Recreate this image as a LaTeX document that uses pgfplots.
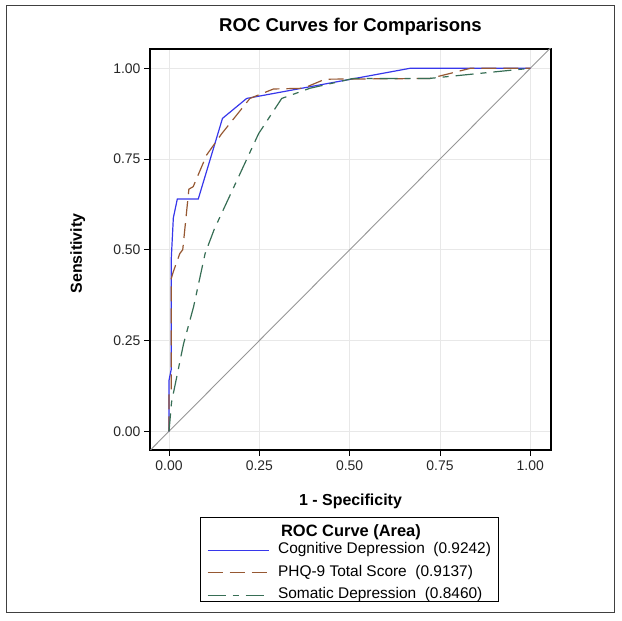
\documentclass[border=0pt]{standalone}
\usepackage{fontspec}
\setmainfont{Liberation Sans}
\usepackage{pgfplots}
\pgfplotsset{compat=1.18}
\definecolor{cogblue}{RGB}{55,55,235}
\definecolor{phqbrown}{RGB}{150,88,50}
\definecolor{somgreen}{RGB}{55,110,85}
\definecolor{diaggray}{RGB}{150,150,150}
\definecolor{gridgray}{RGB}{232,232,232}
\begin{document}
\begin{tikzpicture}[x=1bp,y=1bp]
\path[use as bounding box] (0,0) rectangle (621,621);
\draw[line width=1bp, black!75] (6.5,8) rectangle (614,615);
\begin{axis}[
  at={(150bp,171bp)}, anchor=south west,
  width=401bp, height=401bp, scale only axis,
  xmin=-0.0526, xmax=1.0573, ymin=-0.0515, ymax=1.0532,
  xtick={0,0.25,0.5,0.75,1}, ytick={0,0.25,0.5,0.75,1},
  xtick pos=bottom, ytick pos=left, tick align=outside,
  major tick length=6bp,
  every tick/.style={black, line width=0.9bp},
  axis line style={black, line width=1.1bp},
  grid=major, grid style={gridgray, line width=0.6bp},
  /pgf/number format/.cd, fixed, fixed zerofill, precision=2, assume math mode=true, /pgfplots/.cd,
  tick label style={font=\fontsize{14}{16}\selectfont, text=black!85},
  xticklabel style={yshift=-1bp},
  title={ROC Curves for Comparisons},
  title style={font=\bfseries\fontsize{18.6}{21}\selectfont, at={(axis description cs:0.5,1)}, anchor=base, yshift=12bp},
  xlabel={1 - Specificity},
  xlabel style={font=\bfseries\fontsize{16}{19}\selectfont, at={(axis description cs:0.5,0)}, anchor=base, yshift=-56bp},
  ylabel={Sensitivity},
  ylabel style={font=\bfseries\fontsize{16}{19}\selectfont, at={(axis description cs:-0.18,0.49)}, anchor=center},
  legend style={at={(axis description cs:0.1414,-0.2307)}, anchor=north west, draw=none, fill=none,
    inner sep=0pt, row sep=7.5bp, column sep=9bp,
    nodes={inner sep=0pt, text height=11bp, text depth=4bp},
    font=\fontsize{15.5}{18}\selectfont},
  legend cell align=left,
  legend image code/.code={\draw[#1] (0bp,0bp) -- (61bp,0bp);},
]
\addplot[diaggray, line width=0.9bp, forget plot] coordinates {(-0.06,-0.06) (1.06,1.06)};
\addplot[cogblue, line width=1.2bp] coordinates {
(0,0) (0,0.14) (0.006,0.17) (0.006,0.47) (0.012,0.588) (0.023,0.64) (0.081,0.64)
(0.148,0.862) (0.215,0.917) (0.667,1) (1,1)};
\addlegendentry{Cognitive Depression\ \ (0.9242)}
\addplot[phqbrown, line width=1.2bp, dash pattern=on 15bp off 7bp] coordinates {
(0,0) (0,0.11) (0.006,0.11) (0.006,0.42) (0.012,0.44) (0.03,0.49) (0.038,0.5)
(0.055,0.667) (0.067,0.674) (0.104,0.761) (0.146,0.82) (0.224,0.917) (0.289,0.943)
(0.372,0.945) (0.432,0.97) (0.723,0.972) (0.834,1) (1,1)};
\addlegendentry{PHQ-9 Total Score\ \ (0.9137)}
\addplot[somgreen, line width=1.2bp, dash pattern=on 18bp off 7bp on 6bp off 7bp] coordinates {
(0,0) (0.007,0.08) (0.04,0.24) (0.068,0.343) (0.1,0.49) (0.125,0.556) (0.248,0.82)
(0.312,0.917) (0.39,0.945) (0.51,0.972) (0.72,0.972) (1,1)};
\addlegendentry{Somatic Depression\ \ (0.8460)}
\end{axis}
\draw[line width=1bp, black] (200,103) rectangle (498,19);
\node[font=\bfseries\fontsize{16.5}{19}\selectfont, anchor=center] at (351,88.5) {ROC Curve (Area)};
\end{tikzpicture}
\end{document}
